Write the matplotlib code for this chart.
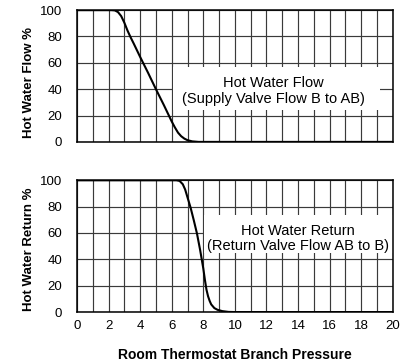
import matplotlib.pyplot as plt
from matplotlib.patches import Rectangle

plt.rcParams["font.family"] = ["Liberation Sans", "DejaVu Sans"]

# supply valve (B to AB) flow curve
flow_x = [0, 2.2, 2.4, 2.6, 2.8, 3.0, 3.2, 3.4, 3.6, 4.0, 4.5, 5.0, 5.5, 5.8,
          6.0, 6.2, 6.4, 6.6, 6.8, 7.0, 7.3, 7.7, 20]
flow_y = [100, 100, 99.8, 98.5, 95.5, 90.5, 84.5, 79.3, 74.5, 64.5, 52.5, 40, 28, 20.5,
          15.5, 11, 7, 4.3, 2.5, 1.3, 0.4, 0, 0]

# return valve (AB to B) flow curve
ret_x = [0, 6.3, 6.5, 6.7, 6.85, 7.0, 7.1, 7.2, 7.4, 7.6, 7.8, 7.9, 8.0, 8.1,
         8.2, 8.3, 8.4, 8.5, 8.7, 8.9, 9.2, 9.6, 10, 20]
ret_y = [100, 100, 99.5, 97, 93, 87, 83, 79, 69.5, 59.5, 47, 40, 33, 24.5,
         17, 12, 8.5, 5.8, 3, 1.7, 0.7, 0.1, 0, 0]

x_ticks = list(range(0, 21, 2))
y_ticks = [0, 20, 40, 60, 80, 100]

fig = plt.figure(figsize=(4.05, 3.62), dpi=100)
ax1 = fig.add_axes([0.190, 0.608, 0.780, 0.364])
ax2 = fig.add_axes([0.190, 0.138, 0.780, 0.364])


def style(ax):
    ax.set_xlim(0, 20)
    ax.set_ylim(0, 100)
    ax.set_xticks(range(0, 21))
    ax.set_yticks(y_ticks)
    ax.grid(True, color="#3a3a3a", linewidth=0.85)
    ax.set_axisbelow(True)
    ax.tick_params(length=0, labelsize=9.5)
    ax.tick_params(axis="y", pad=10.5)
    ax.tick_params(axis="x", pad=5.5)
    for s in ax.spines.values():
        s.set_linewidth(1.1)
        s.set_color("black")


style(ax1)
style(ax2)
ax1.set_xticklabels([])
ax2.set_xticklabels([str(v) if v in x_ticks else "" for v in range(0, 21)])

ax1.plot(flow_x, flow_y, color="black", linewidth=1.5, zorder=4)
ax2.plot(ret_x, ret_y, color="black", linewidth=1.5, zorder=4)

# white label boxes
ax1.add_patch(Rectangle((6.08, 24.2), 13.1, 32.6, facecolor="white", edgecolor="none", zorder=2))
ax1.text(12.45, 38.6, "Hot Water Flow\n(Supply Valve Flow B to AB)", ha="center", va="center",
         fontsize=10.5, linespacing=1.2, zorder=3)
ax2.add_patch(Rectangle((8.04, 44.7), 11.96, 28.8, facecolor="white", edgecolor="none", zorder=2))
ax2.text(14.0, 55.8, "Hot Water Return\n(Return Valve Flow AB to B)", ha="center", va="center",
         fontsize=10.5, linespacing=1.12, zorder=3)

ax1.set_ylabel("Hot Water Flow %", fontsize=9.5, fontweight="bold")
ax2.set_ylabel("Hot Water Return %", fontsize=9.5, fontweight="bold")
ax1.yaxis.set_label_coords(-0.133, 0.45)
ax2.yaxis.set_label_coords(-0.133, 0.48)
ax2.set_xlabel("Room Thermostat Branch Pressure", fontsize=10, fontweight="bold", labelpad=12)

fig.savefig("out.png", dpi=100)
